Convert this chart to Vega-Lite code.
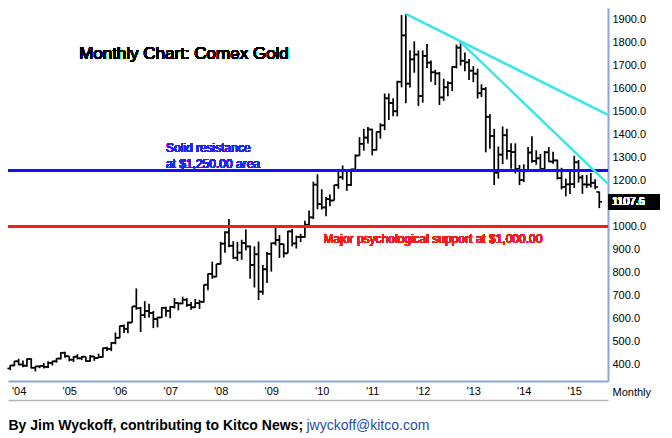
{
  "$schema": "https://vega.github.io/schema/vega-lite/v6.json",
  "width": 600,
  "height": 373,
  "autosize": "none",
  "padding": {"left": 8, "top": 8, "right": 64, "bottom": 57},
  "background": "white",
  "config": {"view": {"stroke": null}, "font": "Liberation Sans"},
  "data": {"values": [
    {"d":"2003-11-01","o":385,"h":400,"l":378,"c":398},
    {"d":"2003-12-01","o":398,"h":418,"l":395,"c":416},
    {"d":"2004-01-01","o":416,"h":427,"l":399,"c":402},
    {"d":"2004-02-01","o":402,"h":419,"l":390,"c":397},
    {"d":"2004-03-01","o":397,"h":428,"l":392,"c":426},
    {"d":"2004-04-01","o":426,"h":429,"l":385,"c":388},
    {"d":"2004-05-01","o":388,"h":395,"l":372,"c":394},
    {"d":"2004-06-01","o":394,"h":398,"l":386,"c":396},
    {"d":"2004-07-01","o":396,"h":408,"l":385,"c":392},
    {"d":"2004-08-01","o":392,"h":416,"l":387,"c":409},
    {"d":"2004-09-01","o":409,"h":418,"l":398,"c":416},
    {"d":"2004-10-01","o":416,"h":430,"l":410,"c":428},
    {"d":"2004-11-01","o":428,"h":456,"l":424,"c":453},
    {"d":"2004-12-01","o":453,"h":457,"l":431,"c":438},
    {"d":"2005-01-01","o":438,"h":438,"l":416,"c":423},
    {"d":"2005-02-01","o":423,"h":438,"l":413,"c":436},
    {"d":"2005-03-01","o":436,"h":447,"l":424,"c":429},
    {"d":"2005-04-01","o":429,"h":438,"l":421,"c":436},
    {"d":"2005-05-01","o":436,"h":436,"l":414,"c":417},
    {"d":"2005-06-01","o":417,"h":443,"l":414,"c":437},
    {"d":"2005-07-01","o":437,"h":438,"l":418,"c":430},
    {"d":"2005-08-01","o":430,"h":449,"l":430,"c":434},
    {"d":"2005-09-01","o":434,"h":475,"l":433,"c":473},
    {"d":"2005-10-01","o":473,"h":479,"l":461,"c":470},
    {"d":"2005-11-01","o":470,"h":499,"l":460,"c":496},
    {"d":"2005-12-01","o":496,"h":541,"l":490,"c":518},
    {"d":"2006-01-01","o":518,"h":571,"l":516,"c":569},
    {"d":"2006-02-01","o":569,"h":576,"l":539,"c":557},
    {"d":"2006-03-01","o":557,"h":587,"l":538,"c":584},
    {"d":"2006-04-01","o":584,"h":654,"l":584,"c":654},
    {"d":"2006-05-01","o":654,"h":732,"l":640,"c":646},
    {"d":"2006-06-01","o":646,"h":652,"l":543,"c":616},
    {"d":"2006-07-01","o":616,"h":677,"l":604,"c":634},
    {"d":"2006-08-01","o":634,"h":665,"l":606,"c":626},
    {"d":"2006-09-01","o":626,"h":634,"l":560,"c":599},
    {"d":"2006-10-01","o":599,"h":609,"l":563,"c":606},
    {"d":"2006-11-01","o":606,"h":651,"l":604,"c":648},
    {"d":"2006-12-01","o":648,"h":652,"l":609,"c":635},
    {"d":"2007-01-01","o":635,"h":656,"l":603,"c":652},
    {"d":"2007-02-01","o":652,"h":690,"l":645,"c":669},
    {"d":"2007-03-01","o":669,"h":670,"l":637,"c":667},
    {"d":"2007-04-01","o":667,"h":696,"l":663,"c":683},
    {"d":"2007-05-01","o":683,"h":690,"l":652,"c":660},
    {"d":"2007-06-01","o":660,"h":673,"l":639,"c":650},
    {"d":"2007-07-01","o":650,"h":686,"l":648,"c":668},
    {"d":"2007-08-01","o":668,"h":683,"l":643,"c":674},
    {"d":"2007-09-01","o":674,"h":748,"l":670,"c":748},
    {"d":"2007-10-01","o":748,"h":797,"l":724,"c":795},
    {"d":"2007-11-01","o":795,"h":848,"l":774,"c":783},
    {"d":"2007-12-01","o":783,"h":838,"l":781,"c":838},
    {"d":"2008-01-01","o":838,"h":934,"l":836,"c":926},
    {"d":"2008-02-01","o":926,"h":980,"l":887,"c":975},
    {"d":"2008-03-01","o":975,"h":1033,"l":910,"c":917},
    {"d":"2008-04-01","o":917,"h":937,"l":860,"c":865},
    {"d":"2008-05-01","o":865,"h":934,"l":851,"c":887},
    {"d":"2008-06-01","o":887,"h":943,"l":856,"c":929},
    {"d":"2008-07-01","o":929,"h":988,"l":897,"c":914},
    {"d":"2008-08-01","o":914,"h":918,"l":774,"c":834},
    {"d":"2008-09-01","o":834,"h":914,"l":736,"c":880},
    {"d":"2008-10-01","o":880,"h":935,"l":681,"c":718},
    {"d":"2008-11-01","o":718,"h":833,"l":705,"c":815},
    {"d":"2008-12-01","o":815,"h":890,"l":755,"c":882},
    {"d":"2009-01-01","o":882,"h":931,"l":805,"c":928},
    {"d":"2009-02-01","o":928,"h":1007,"l":918,"c":942},
    {"d":"2009-03-01","o":942,"h":963,"l":864,"c":924},
    {"d":"2009-04-01","o":924,"h":926,"l":866,"c":884},
    {"d":"2009-05-01","o":884,"h":982,"l":884,"c":979},
    {"d":"2009-06-01","o":979,"h":990,"l":914,"c":927},
    {"d":"2009-07-01","o":927,"h":961,"l":905,"c":955},
    {"d":"2009-08-01","o":955,"h":969,"l":933,"c":955},
    {"d":"2009-09-01","o":955,"h":1025,"l":952,"c":1008},
    {"d":"2009-10-01","o":1008,"h":1070,"l":1003,"c":1040},
    {"d":"2009-11-01","o":1040,"h":1195,"l":1033,"c":1182},
    {"d":"2009-12-01","o":1182,"h":1227,"l":1075,"c":1097},
    {"d":"2010-01-01","o":1097,"h":1162,"l":1074,"c":1083},
    {"d":"2010-02-01","o":1083,"h":1128,"l":1045,"c":1119},
    {"d":"2010-03-01","o":1119,"h":1139,"l":1088,"c":1113},
    {"d":"2010-04-01","o":1113,"h":1181,"l":1113,"c":1180},
    {"d":"2010-05-01","o":1180,"h":1249,"l":1164,"c":1214},
    {"d":"2010-06-01","o":1214,"h":1265,"l":1203,"c":1245},
    {"d":"2010-07-01","o":1245,"h":1245,"l":1155,"c":1181},
    {"d":"2010-08-01","o":1181,"h":1251,"l":1176,"c":1248},
    {"d":"2010-09-01","o":1248,"h":1313,"l":1242,"c":1308},
    {"d":"2010-10-01","o":1308,"h":1388,"l":1307,"c":1359},
    {"d":"2010-11-01","o":1359,"h":1424,"l":1329,"c":1386},
    {"d":"2010-12-01","o":1386,"h":1432,"l":1360,"c":1421},
    {"d":"2011-01-01","o":1421,"h":1424,"l":1309,"c":1333},
    {"d":"2011-02-01","o":1333,"h":1412,"l":1330,"c":1411},
    {"d":"2011-03-01","o":1411,"h":1448,"l":1381,"c":1439},
    {"d":"2011-04-01","o":1439,"h":1577,"l":1418,"c":1556},
    {"d":"2011-05-01","o":1556,"h":1577,"l":1462,"c":1536},
    {"d":"2011-06-01","o":1536,"h":1556,"l":1478,"c":1500},
    {"d":"2011-07-01","o":1500,"h":1632,"l":1478,"c":1628},
    {"d":"2011-08-01","o":1628,"h":1917,"l":1604,"c":1829},
    {"d":"2011-09-01","o":1829,"h":1922,"l":1535,"c":1620},
    {"d":"2011-10-01","o":1620,"h":1764,"l":1603,"c":1725},
    {"d":"2011-11-01","o":1725,"h":1803,"l":1667,"c":1746},
    {"d":"2011-12-01","o":1746,"h":1764,"l":1523,"c":1566},
    {"d":"2012-01-01","o":1566,"h":1764,"l":1537,"c":1740},
    {"d":"2012-02-01","o":1740,"h":1792,"l":1688,"c":1711},
    {"d":"2012-03-01","o":1711,"h":1720,"l":1628,"c":1669},
    {"d":"2012-04-01","o":1669,"h":1680,"l":1614,"c":1664},
    {"d":"2012-05-01","o":1664,"h":1670,"l":1527,"c":1560},
    {"d":"2012-06-01","o":1560,"h":1641,"l":1545,"c":1604},
    {"d":"2012-07-01","o":1604,"h":1630,"l":1565,"c":1622},
    {"d":"2012-08-01","o":1622,"h":1695,"l":1588,"c":1692},
    {"d":"2012-09-01","o":1692,"h":1789,"l":1686,"c":1776},
    {"d":"2012-10-01","o":1776,"h":1800,"l":1698,"c":1719},
    {"d":"2012-11-01","o":1719,"h":1755,"l":1673,"c":1712},
    {"d":"2012-12-01","o":1712,"h":1727,"l":1636,"c":1676},
    {"d":"2013-01-01","o":1676,"h":1696,"l":1626,"c":1663},
    {"d":"2013-02-01","o":1663,"h":1685,"l":1555,"c":1578},
    {"d":"2013-03-01","o":1578,"h":1617,"l":1562,"c":1596},
    {"d":"2013-04-01","o":1596,"h":1605,"l":1322,"c":1476},
    {"d":"2013-05-01","o":1476,"h":1488,"l":1338,"c":1393},
    {"d":"2013-06-01","o":1393,"h":1424,"l":1180,"c":1234},
    {"d":"2013-07-01","o":1234,"h":1347,"l":1208,"c":1312},
    {"d":"2013-08-01","o":1312,"h":1434,"l":1271,"c":1396},
    {"d":"2013-09-01","o":1396,"h":1424,"l":1291,"c":1327},
    {"d":"2013-10-01","o":1327,"h":1361,"l":1251,"c":1323},
    {"d":"2013-11-01","o":1323,"h":1361,"l":1230,"c":1250},
    {"d":"2013-12-01","o":1250,"h":1267,"l":1180,"c":1202},
    {"d":"2014-01-01","o":1202,"h":1270,"l":1193,"c":1240},
    {"d":"2014-02-01","o":1240,"h":1345,"l":1238,"c":1321},
    {"d":"2014-03-01","o":1321,"h":1392,"l":1277,"c":1284},
    {"d":"2014-04-01","o":1284,"h":1331,"l":1268,"c":1296},
    {"d":"2014-05-01","o":1296,"h":1315,"l":1240,"c":1250},
    {"d":"2014-06-01","o":1250,"h":1328,"l":1240,"c":1322},
    {"d":"2014-07-01","o":1322,"h":1345,"l":1280,"c":1282},
    {"d":"2014-08-01","o":1282,"h":1324,"l":1273,"c":1287},
    {"d":"2014-09-01","o":1287,"h":1290,"l":1204,"c":1210},
    {"d":"2014-10-01","o":1210,"h":1255,"l":1161,"c":1172},
    {"d":"2014-11-01","o":1172,"h":1208,"l":1131,"c":1183},
    {"d":"2014-12-01","o":1183,"h":1238,"l":1141,"c":1184},
    {"d":"2015-01-01","o":1184,"h":1307,"l":1167,"c":1279},
    {"d":"2015-02-01","o":1279,"h":1289,"l":1191,"c":1213},
    {"d":"2015-03-01","o":1213,"h":1224,"l":1142,"c":1183},
    {"d":"2015-04-01","o":1183,"h":1224,"l":1168,"c":1182},
    {"d":"2015-05-01","o":1182,"h":1232,"l":1170,"c":1190},
    {"d":"2015-06-01","o":1190,"h":1205,"l":1162,"c":1172},
    {"d":"2015-07-01","o":1150,"h":1152,"l":1080,"c":1107.6}
  ]},
  "layer": [
    {
      "mark": {"type": "rule", "color": "black", "strokeWidth": 1.7},
      "encoding": {
        "x": {"field": "d", "type": "temporal",
          "scale": {"type": "utc", "domain": [{"year": 2003, "month": 10, "date": 16, "utc": true}, {"year": 2015, "month": 9, "date": 2, "utc": true}]},
          "axis": {"orient": "bottom", "format": "'%y", "tickCount": {"interval": "year", "step": 1},
            "domainColor": "#8fa4d8", "domainWidth": 2, "ticks": false, "tickSize": 0, "grid": false,
            "labelFont": "Liberation Sans", "labelFontSize": 11, "labelColor": "black", "labelPadding": 4,
            "labelFlush": false, "labelOverlap": false,
            "title": "Monthly", "titleX": 604, "titleY": 14, "titleAlign": "left",
            "titleBaseline": "alphabetic", "titleFont": "Liberation Sans", "titleFontSize": 11,
            "titleFontWeight": "normal", "titleColor": "black"}},
        "y": {"field": "l", "type": "quantitative",
          "scale": {"domain": [330.6, 1947.7], "nice": false, "zero": false},
          "axis": {"orient": "right", "values": [400, 500, 600, 700, 800, 900, 1000, 1200, 1300, 1400, 1500, 1600, 1700, 1800, 1900],
            "format": ".1f", "domainColor": "#8fa4d8", "domainWidth": 2, "ticks": false, "tickSize": 0, "grid": false,
            "labelPadding": 4, "labelFont": "Liberation Sans", "labelFontSize": 11, "labelColor": "black", "labelOverlap": false,
            "title": "jwyckoff@kitco.com", "titleAngle": 0, "titleX": -302, "titleY": 421.5, "titleAlign": "left",
            "titleBaseline": "alphabetic", "titleColor": "#1f4fa8", "titleFont": "Liberation Sans",
            "titleFontSize": 14, "titleFontWeight": "normal"}},
        "y2": {"field": "h"}
      }
    },
    {
      "mark": {"type": "rule", "color": "black", "strokeWidth": 1.7, "xOffset": -2.8},
      "encoding": {
        "x": {"field": "d", "type": "temporal",
          "axis": {"orient": "bottom", "offset": 19, "domainColor": "#b4b4b4", "domainWidth": 1.5,
            "labels": false, "ticks": false, "tickSize": 0, "grid": false,
            "title": "By Jim Wyckoff, contributing to Kitco News;", "titleX": 0, "titleY": 29.5,
            "titleAlign": "left", "titleBaseline": "alphabetic", "titleFont": "Liberation Sans",
            "titleFontSize": 14, "titleFontWeight": "bold", "titleColor": "black"}},
        "x2": {"field": "d"},
        "y": {"field": "o", "type": "quantitative", "axis": null}
      }
    },
    {
      "mark": {"type": "rule", "color": "black", "strokeWidth": 1.7, "x2Offset": 2.8},
      "encoding": {
        "x": {"field": "d", "type": "temporal", "axis": null},
        "x2": {"field": "d"},
        "y": {"field": "c", "type": "quantitative", "axis": null}
      }
    },
    {
      "mark": {"type": "rule", "color": "#1010ff", "strokeWidth": 2},
      "encoding": {"y": {"datum": 1242, "type": "quantitative", "axis": null}}
    },
    {
      "mark": {"type": "rule", "color": "#ff1a1a", "strokeWidth": 2},
      "encoding": {"y": {"datum": 1000, "type": "quantitative", "axis": null}}
    },
    {
      "data": {"values": [
        {"line": "a", "d": "2011-09-01", "p": 1922},
        {"line": "a", "d": "2015-09-02", "p": 1484},
        {"line": "b", "d": "2012-10-01", "p": 1800},
        {"line": "b", "d": "2015-09-02", "p": 1185}
      ]},
      "mark": {"type": "line", "color": "#3de6e6", "strokeWidth": 2.5},
      "encoding": {
        "x": {"field": "d", "type": "temporal", "axis": null},
        "y": {"field": "p", "type": "quantitative", "axis": null},
        "detail": {"field": "line"}
      }
    },
    {
      "mark": {"type": "text", "align": "left", "baseline": "middle", "fontSize": 17, "font": "Liberation Sans", "color": "black"},
      "encoding": {
        "x": {"datum": {"year": 2005, "month": 3, "date": 13, "utc": true}, "type": "temporal", "axis": null},
        "y": {"datum": 1748, "type": "quantitative", "axis": null},
        "text": {"value": "Monthly Chart: Comex Gold"}
      }
    },
    {
      "mark": {"type": "text", "align": "left", "baseline": "alphabetic", "fontSize": 12, "lineHeight": 15.5, "font": "Liberation Sans", "color": "#2424f0"},
      "encoding": {
        "x": {"datum": {"year": 2006, "month": 12, "date": 1, "utc": true}, "type": "temporal", "axis": null},
        "y": {"datum": 1323, "type": "quantitative", "axis": null},
        "text": {"value": ["Solid resistance", "at $1,250.00 area"]}
      }
    },
    {
      "mark": {"type": "text", "align": "left", "baseline": "alphabetic", "fontSize": 12, "font": "Liberation Sans", "color": "#f01e1e"},
      "encoding": {
        "x": {"datum": {"year": 2010, "month": 1, "date": 14, "utc": true}, "type": "temporal", "axis": null},
        "y": {"datum": 927, "type": "quantitative", "axis": null},
        "text": {"value": "Major psychological support at $1,000.00"}
      }
    },
    {
      "mark": {"type": "rect", "color": "black", "clip": false},
      "encoding": {
        "x": {"datum": {"year": 2015, "month": 9, "date": 2, "utc": true}, "type": "temporal", "axis": null},
        "x2": {"datum": {"year": 2016, "month": 9, "date": 12, "utc": true}},
        "y": {"datum": 1072, "type": "quantitative", "axis": null},
        "y2": {"datum": 1141}
      }
    },
    {
      "mark": {"type": "text", "align": "left", "baseline": "middle", "fontSize": 11, "font": "Liberation Sans", "color": "white", "clip": false, "dx": 4},
      "encoding": {
        "x": {"datum": {"year": 2015, "month": 9, "date": 2, "utc": true}, "type": "temporal", "axis": null},
        "y": {"datum": 1107.6, "type": "quantitative", "axis": null},
        "text": {"value": "1107.6"}
      }
    }
  ],
  "resolve": {"axis": {"x": "independent", "y": "independent"}}
}
